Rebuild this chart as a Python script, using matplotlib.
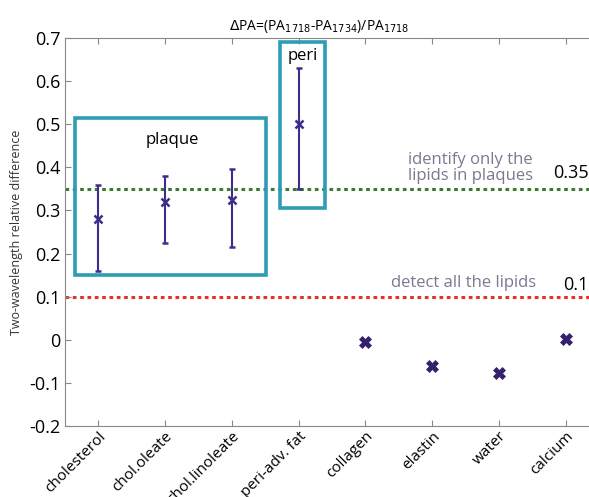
import numpy as np
import matplotlib.pyplot as plt
from matplotlib.patches import Rectangle

plt.rcParams['font.family'] = ['Open Sans', 'DejaVu Sans']

# data
lipids = ['cholesterol', 'chol.oleate', 'chol.linoleate', 'peri-adv. fat']
lipid_mean = [0.28, 0.32, 0.325, 0.50]
lipid_low = [0.16, 0.225, 0.215, 0.35]
lipid_high = [0.36, 0.38, 0.395, 0.63]

others = ['collagen', 'elastin', 'water', 'calcium']
other_val = [-0.005, -0.062, -0.078, 0.001]

thresh_plaque = 0.35
thresh_all = 0.1

labels = lipids + others
xl = np.arange(1, len(lipids) + 1)
xo = np.arange(len(lipids) + 1, len(labels) + 1)

fig = plt.figure(figsize=(5.89, 4.97), dpi=100)
ax = fig.add_axes([0.1104, 0.1429, 0.9066, 0.7807])

purple = '#3f2d8c'
teal = '#2e9cb4'

# threshold lines
ax.axhline(thresh_plaque, color='#3d7a32', ls=(0, (1.2, 1.2)), lw=2.2, zorder=1)
ax.axhline(thresh_all, color='#e8302a', ls=(0, (1.2, 1.2)), lw=2.2, zorder=1)

# error bars for lipids
yerr = [np.array(lipid_mean) - np.array(lipid_low), np.array(lipid_high) - np.array(lipid_mean)]
ax.errorbar(xl, lipid_mean, yerr=yerr, fmt='x', color=purple, ms=6, mew=1.8,
            elinewidth=1.5, capsize=2, capthick=1.5, zorder=3)

# other tissues
ax.plot(xo, other_val, 'X', color='#35206e', ms=9, mec='#35206e', mew=0.5, ls='none', zorder=3)

# boxes
ax.add_patch(Rectangle((0.65, 0.15), 2.86, 0.365, fill=False, ec=teal, lw=2.6, zorder=2))
ax.add_patch(Rectangle((3.72, 0.305), 0.68, 0.385, fill=False, ec=teal, lw=2.6, zorder=2))
ax.text(2.1, 0.445, 'plaque', ha='center', va='bottom', fontsize=12)
ax.text(4.06, 0.64, 'peri', ha='center', va='bottom', fontsize=12)

# annotations
ax.text(6.57, 0.362, 'identify only the\nlipids in plaques', ha='center', va='bottom',
        fontsize=12, color='#7c7890', linespacing=1.0)
ax.text(6.47, 0.112, 'detect all the lipids', ha='center', va='bottom', fontsize=12, color='#7c7890')
fig.text(0.999, 1 - 182 / 497, '0.35', ha='right', va='bottom', fontsize=13)
fig.text(0.999, 1 - 294 / 497, '0.1', ha='right', va='bottom', fontsize=13)

ax.set_xlim(0.5, 8.5)
ax.set_ylim(-0.2, 0.7)
ax.set_xticks(np.arange(1, len(labels) + 1))
ax.set_xticklabels(labels, rotation=45, ha='right', va='top', rotation_mode='anchor', fontsize=11)
ax.set_yticks(np.arange(-0.2, 0.71, 0.1))
ax.set_yticklabels(['-0.2', '-0.1', '0', '0.1', '0.2', '0.3', '0.4', '0.5', '0.6', '0.7'], fontsize=13)
ax.tick_params(direction='in', top=True, length=4, color='#888888')
ax.tick_params(axis='x', pad=2)
for s in ax.spines.values():
    s.set_color('#888888')

ax.set_ylabel('Two-wavelength relative difference', fontsize=9, color='#333333')
ax.set_title(r'$\Delta$PA=(PA$_{1718}$-PA$_{1734}$)/PA$_{1718}$', fontsize=10, pad=6, x=0.475)

fig.savefig('out.png', dpi=100)
